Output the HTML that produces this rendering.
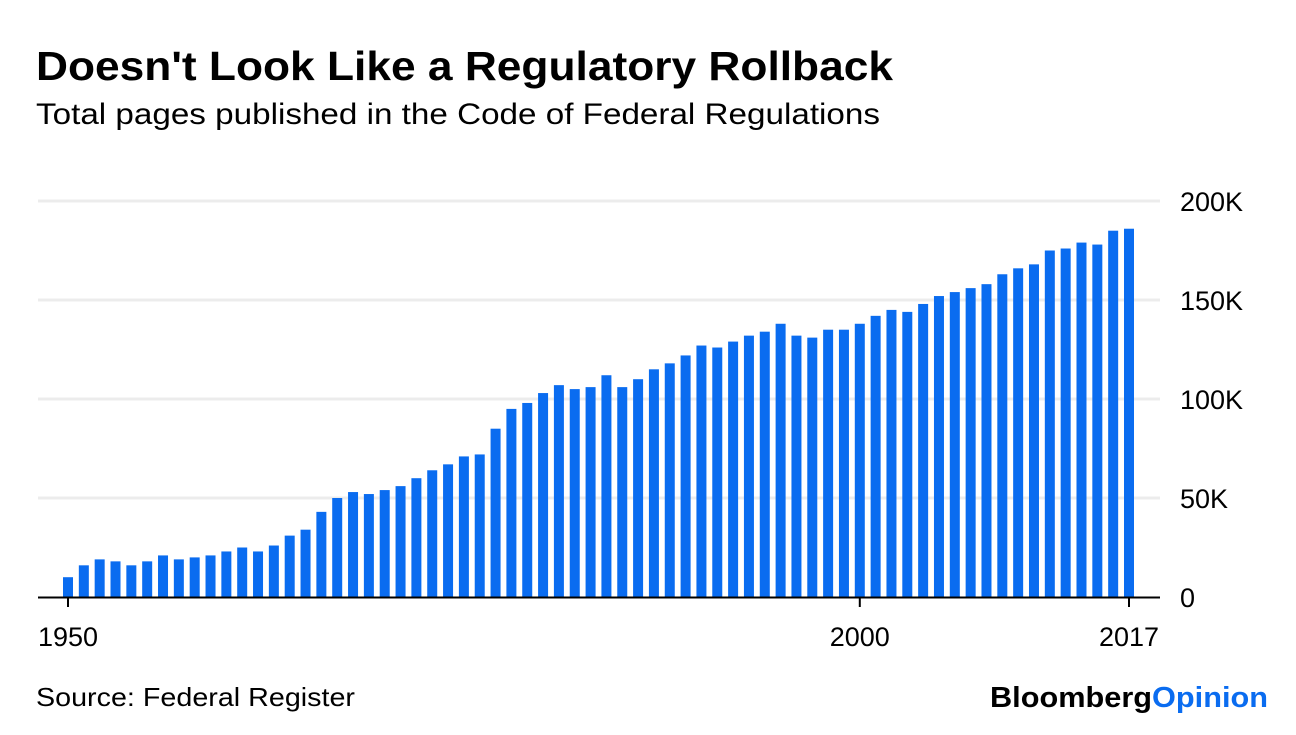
<!DOCTYPE html>
<html><head><meta charset="utf-8"><style>
body{margin:0;background:#fff;width:1296px;height:730px;overflow:hidden;font-family:"Liberation Sans",sans-serif;}
</style></head><body>
<svg width="1296" height="730">
<text x="36" y="80" font-size="41" font-weight="bold" fill="#000" textLength="857" lengthAdjust="spacingAndGlyphs">Doesn't Look Like a Regulatory Rollback</text>
<text x="36" y="124" font-size="30" fill="#000" textLength="844" lengthAdjust="spacingAndGlyphs">Total pages published in the Code of Federal Regulations</text>
<g id="grid"></g><g id="bars"></g><g id="axes"></g>
<text x="36" y="706" font-size="26" fill="#000" textLength="319" lengthAdjust="spacingAndGlyphs">Source: Federal Register</text>
<text x="990" y="707" font-size="29" font-weight="bold" textLength="278" lengthAdjust="spacingAndGlyphs"><tspan fill="#000">Bloomberg</tspan><tspan fill="#0a6cf0">Opinion</tspan></text>
</svg>
<script>
const years=[];for(let y=1950;y<=2017;y++)years.push(y);
const pages=[10,16,19,18,16,18,21,19,20,21,23,25,23,26,31,34,43,50,53,52,54,56,60,64,67,71,72,85,95,98,103,107,105,106,112,106,110,115,118,122,127,126,129,132,134,138,132,131,135,135,138,142,145,144,148,152,154,156,158,163,166,168,175,176,179,178,185,186];
const yTicks=[0,50,100,150,200];
const yTickLabels=["0","50K","100K","150K","200K"];
const xTicks=[1950,2000,2017];
const NS="http://www.w3.org/2000/svg";
const x=v=>68+(v-1950)*(1129-68)/67;
const y=v=>597-v*(597-201)/200;
function mk(t,a,p){const e=document.createElementNS(NS,t);for(const k in a)e.setAttribute(k,a[k]);p.appendChild(e);return e;}
const grid=document.getElementById('grid'),bars=document.getElementById('bars'),axes=document.getElementById('axes');
yTicks.forEach((v,i)=>{
 if(v>0){const l=mk('line',{x1:38,x2:1160,y1:y(v),y2:y(v),stroke:'#ececec','stroke-width':3},grid);
 
 }
 const t=mk('text',{x:1180,y:y(v)+10,'font-size':27,fill:'#000'},axes);t.textContent=yTickLabels[i];
 
 
});
years.forEach((yr,i)=>{
 const r=mk('rect',{x:x(yr)-5,y:y(pages[i]),width:10,height:y(0)-y(pages[i]),fill:'#0a6cf0'},bars);
 
 
});
const ax=mk('line',{x1:38,x2:1160,y1:597.5,y2:597.5,stroke:'#000','stroke-width':2},axes);


xTicks.forEach(v=>{
 const tk=mk('line',{x1:x(v),x2:x(v),y1:597,y2:607,stroke:'#000','stroke-width':2},axes);
 
 
 const t=mk('text',{x:x(v),y:646,'font-size':27,'text-anchor':'middle',fill:'#000'},axes);t.textContent=v;
 
 
});
</script>
</body></html>
